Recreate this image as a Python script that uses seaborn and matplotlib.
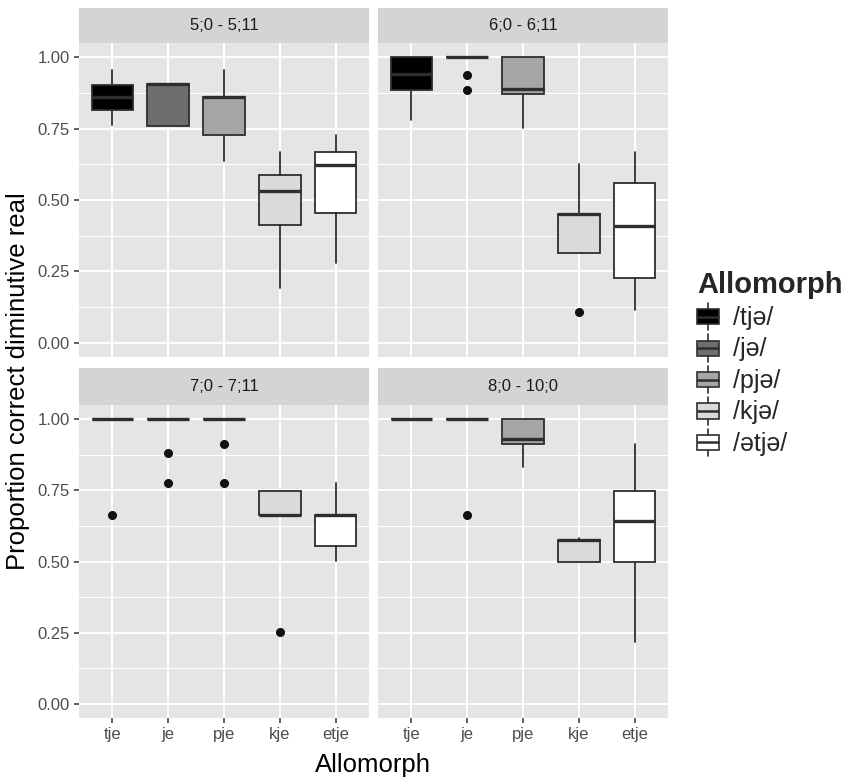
import numpy as np
import pandas as pd
import matplotlib
matplotlib.use("Agg")
import matplotlib.pyplot as plt
import seaborn as sns
from matplotlib.patches import Rectangle, Patch
from matplotlib.lines import Line2D
from matplotlib.legend_handler import HandlerBase

# ---------------- data ----------------
ages = ["5;0 - 5;11", "6;0 - 6;11", "7;0 - 7;11", "8;0 - 10;0"]
allomorphs = ["tje", "je", "pje", "kje", "etje"]
legend_labels = ["/tjə/", "/jə/", "/pjə/", "/kjə/", "/ətjə/"]
fills = ["#000000", "#6e6e6e", "#a6a6a6", "#dadada", "#ffffff"]

# one row per age panel, columns follow `allomorphs`
whisker_low = [
    [0.764, 0.759, 0.637, 0.193, 0.278],
    [0.779, 1.000, 0.752, 0.315, 0.115],
    [1.000, 1.000, 1.000, 0.665, 0.502],
    [1.000, 1.000, 0.832, 0.497, 0.217],
]
quart1 = [
    [0.816, 0.759, 0.727, 0.412, 0.453],
    [0.884, 1.000, 0.872, 0.315, 0.226],
    [1.000, 1.000, 1.000, 0.665, 0.555],
    [1.000, 1.000, 0.913, 0.497, 0.497],
]
median = [
    [0.861, 0.907, 0.861, 0.531, 0.622],
    [0.940, 1.000, 0.890, 0.450, 0.408],
    [1.000, 1.000, 1.000, 0.665, 0.665],
    [1.000, 1.000, 0.930, 0.576, 0.642],
]
quart3 = [
    [0.904, 0.907, 0.861, 0.589, 0.669],
    [1.000, 1.000, 1.000, 0.450, 0.561],
    [1.000, 1.000, 1.000, 0.747, 0.665],
    [1.000, 1.000, 1.000, 0.576, 0.747],
]
whisker_high = [
    [0.956, 0.907, 0.956, 0.669, 0.727],
    [1.000, 1.000, 1.000, 0.625, 0.669],
    [1.000, 1.000, 1.000, 0.747, 0.776],
    [1.000, 1.000, 1.000, 0.584, 0.914],
]
outliers = [
    [[], [], [], [], []],
    [[], [0.938, 0.886], [], [0.109], []],
    [[0.662], [0.883, 0.776], [0.913, 0.776], [0.252], []],
    [[], [0.662], [], [], []],
]

rows = []
for i, age in enumerate(ages):
    for j, al in enumerate(allomorphs):
        rows.append(dict(age=age, allomorph=al, whislo=whisker_low[i][j], q1=quart1[i][j],
                         med=median[i][j], q3=quart3[i][j], whishi=whisker_high[i][j],
                         fliers=outliers[i][j]))
df = pd.DataFrame(rows)

# ---------------- style ----------------
sns.set_theme(style="darkgrid")
plt.rcParams["font.family"] = ["Liberation Sans", "DejaVu Sans"]

EDGE = "#2e2e2e"
PANEL = "#e5e5e5"
STRIP = "#d4d4d4"
W, H = 856, 779


def draw_boxes(data, **kws):
    ax = plt.gca()
    stats = []
    pos = []
    for _, r in data.iterrows():
        stats.append(dict(whislo=r.whislo, q1=r.q1, med=r.med, q3=r.q3,
                          whishi=r.whishi, fliers=np.array(r.fliers)))
        pos.append(allomorphs.index(r.allomorph))
    art = ax.bxp(stats, positions=pos, widths=0.75, patch_artist=True, showcaps=False,
                 boxprops=dict(edgecolor=EDGE, linewidth=1.3),
                 medianprops=dict(color=EDGE, linewidth=2.4, solid_capstyle="butt"),
                 whiskerprops=dict(color=EDGE, linewidth=1.3),
                 flierprops=dict(marker="o", markerfacecolor="#111111",
                                 markeredgecolor="#111111", markersize=5.5))
    for patch, p in zip(art["boxes"], pos):
        patch.set_facecolor(fills[p])


g = sns.FacetGrid(df, col="age", col_order=ages, col_wrap=2, sharex=True, sharey=True,
                  height=3.5, aspect=1.0, despine=False)
g.map_dataframe(draw_boxes)
fig = g.figure
fig.set_size_inches(W / 100, H / 100)
fig.set_dpi(100)
fig.patch.set_facecolor("white")

lefts = [79, 378, 79, 378]
tops = [43, 43, 405, 405]
bottoms = [357, 357, 718, 718]
strip_tops = [8, 8, 368, 368]

for k, ax in enumerate(g.axes.flat):
    l, t, b = lefts[k], tops[k], bottoms[k]
    ax.set_position([l / W, 1 - b / H, 290 / W, (b - t) / H])
    ax.set_facecolor(PANEL)
    for s in ax.spines.values():
        s.set_visible(False)
    ax.set_xlim(-0.6, 4.6)
    ax.set_ylim(-0.05, 1.05)
    ax.set_xticks(range(len(allomorphs)))
    ax.set_xticklabels(allomorphs)
    ax.set_yticks([0, 0.25, 0.5, 0.75, 1.0])
    ax.set_yticklabels(["0.00", "0.25", "0.50", "0.75", "1.00"])
    ax.set_yticks([0.125, 0.375, 0.625, 0.875], minor=True)
    ax.set_axisbelow(True)
    ax.grid(which="major", color="white", linewidth=1.4)
    ax.grid(which="minor", axis="y", color="white", linewidth=0.8)
    ax.grid(which="minor", axis="x", visible=False)
    ax.tick_params(which="minor", length=0)
    ax.tick_params(which="major", length=3.6, width=1.1, color="#333333",
                   labelcolor="#4d4d4d", labelsize=12, pad=3)
    bottom_row = k >= 2
    left_col = k % 2 == 0
    ax.tick_params(axis="x", bottom=bottom_row, labelbottom=bottom_row)
    ax.tick_params(axis="y", left=left_col, labelleft=left_col)
    ax.set_xlabel("")
    ax.set_ylabel("")
    ax.set_title("")
    # facet strip
    sh = (t - strip_tops[k]) / (b - t)
    ax.add_patch(Rectangle((0, 1), 1, sh, transform=ax.transAxes, clip_on=False,
                           facecolor=STRIP, edgecolor="none", zorder=3))
    ax.text(0.5, 1 + sh / 2, ages[k], transform=ax.transAxes, ha="center", va="center",
            fontsize=12, color="#1a1a1a", zorder=4)

fig.text(373 / W, 1 - 765 / H, "Allomorph", ha="center", va="center", fontsize=18.5,
         color="black")
fig.text(18 / W, 1 - 381 / H, "Proportion correct diminutive real", ha="center",
         va="center", rotation=90, fontsize=18.5, color="black")


class BoxKeyHandler(HandlerBase):
    def create_artists(self, legend, orig_handle, xdescent, ydescent, width, height,
                       fontsize, trans):
        x0, y0 = -xdescent, -ydescent
        fc = orig_handle.get_facecolor()
        cx = x0 + width / 2
        lo, hi = y0 + 0.225 * height, y0 + 0.775 * height
        w1 = Line2D([cx, cx], [y0, lo], color=EDGE, lw=1.2)
        w2 = Line2D([cx, cx], [hi, y0 + height], color=EDGE, lw=1.2)
        rect = Rectangle((x0, lo), width, hi - lo, facecolor=fc, edgecolor=EDGE, lw=1.2)
        med = Line2D([x0, x0 + width], [(lo + hi) / 2] * 2, color=EDGE, lw=1.8,
                     solid_capstyle="butt")
        arts = [w1, w2, rect, med]
        for a in arts:
            a.set_transform(trans)
        return arts


handles = [Patch(facecolor=c, edgecolor=EDGE) for c in fills]
leg = fig.legend(handles, legend_labels, loc="upper left",
                 bbox_to_anchor=(697 / W, 1 - 271 / H), bbox_transform=fig.transFigure,
                 frameon=False, title="Allomorph",
                 title_fontproperties={"weight": "bold", "size": 21},
                 alignment="left", fontsize=18, handlelength=0.88, handleheight=1.32,
                 labelspacing=0.155, handletextpad=0.55, borderpad=0, borderaxespad=0,
                 handler_map={Patch: BoxKeyHandler()})

fig.savefig("out.png", dpi=100, facecolor="white")
